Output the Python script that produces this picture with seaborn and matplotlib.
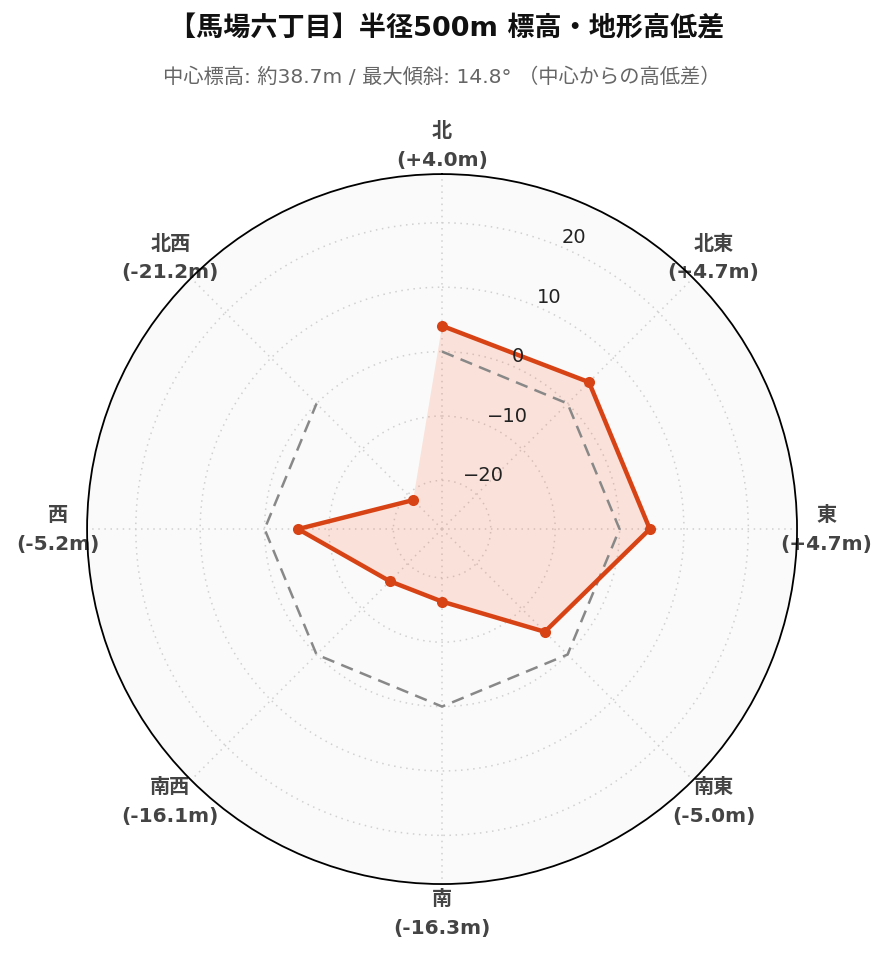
import numpy as np
import pandas as pd
import matplotlib
matplotlib.use("Agg")
import matplotlib.pyplot as plt
import seaborn as sns

# ---- data ----
directions = ["北", "北東", "東", "南東", "南", "南西", "西", "北西"]
angles_deg = [0, 45, 90, 135, 180, 225, 270, 315]
elev_diff = [4.0, 4.7, 4.7, -5.0, -16.3, -16.1, -5.2, -21.2]
reference_zero = [0, 0, 0, 0, 0, 0, 0, 0]
r_ticks = [-20, -10, 0, 10, 20]
title_text = "【馬場六丁目】半径500m 標高・地形高低差"
subtitle_text = "中心標高: 約38.7m / 最大傾斜: 14.8° （中心からの高低差）"

sns.set_theme(style="white")
plt.rcParams["font.family"] = ["DejaVu Sans", "Noto Sans CJK JP"]

theta = np.deg2rad(angles_deg)
theta_c = np.append(theta, theta[0])
vals_c = np.append(elev_diff, elev_diff[0])
zero_c = np.append(reference_zero, reference_zero[0])
df = pd.DataFrame({"theta": theta_c, "value": vals_c, "zero": zero_c})

rmax = max(abs(v) for v in elev_diff) * 1.3

fig = plt.figure(figsize=(8.89, 9.62), dpi=100)
ax = fig.add_axes([0.0979, 0.080, 0.7987, 0.738], projection="polar")
ax.set_facecolor("#fafafa")
ax.set_theta_zero_location("N")
ax.set_theta_direction(-1)
ax.set_ylim(-rmax, rmax)

line_color = "#d84315"
ax.fill(df["theta"], df["value"], color="#ff5722", alpha=0.15, zorder=1, linewidth=0)
sns.lineplot(data=df, x="theta", y="zero", sort=False, ax=ax, color="#888888",
             linestyle=(0, (5, 3)), linewidth=1.8, zorder=3)
sns.lineplot(data=df, x="theta", y="value", sort=False, ax=ax, color=line_color,
             linewidth=3.2, marker="o", markersize=8, markeredgewidth=0, zorder=4)

ax.set_xlabel("")
ax.set_ylabel("")

# angular ticks
labels = [f"{d}\n({v:+.1f}m)" for d, v in zip(directions, elev_diff)]
ax.set_xticks(theta)
ax.set_xticklabels(labels, fontsize=14.5, fontweight="bold", color="#444444",
                   linespacing=1.65)
ax.tick_params(axis="x", pad=8)

# radial ticks
ax.set_yticks(r_ticks)
ax.set_yticklabels([])
for t in r_ticks:
    ax.annotate(f"{t}".replace("-", "\u2212"), xy=(np.deg2rad(22.5), t), xytext=(2, 0),
                textcoords="offset pixels", ha="left", va="bottom",
                fontsize=14, color="#222222", zorder=5)

ax.grid(True, color="#d0d0d0", linestyle=(0, (1, 3)), linewidth=1.1)
ax.spines["polar"].set_color("black")
ax.spines["polar"].set_linewidth(1.3)

fig.text(0.502, 1 - 29 / 962, title_text, ha="center", va="center",
         fontsize=19.5, fontweight="bold", color="#111111")
fig.text(0.497, 1 - 77 / 962, subtitle_text, ha="center", va="center",
         fontsize=14.6, color="#666666")

fig.savefig("out.png", dpi=100, facecolor="white")
